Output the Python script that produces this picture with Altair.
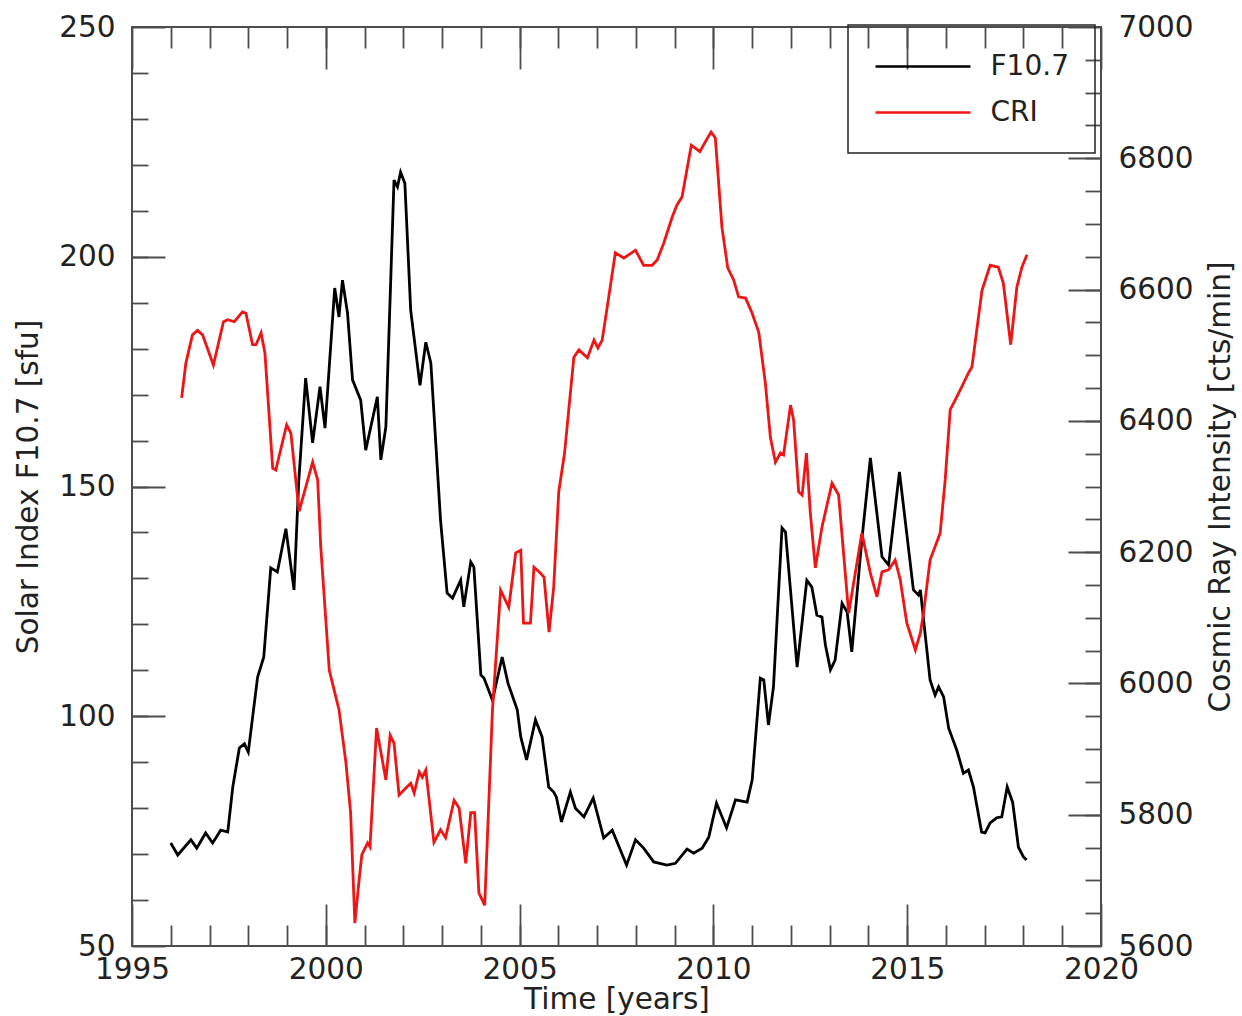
import altair as alt
import pandas as pd

# Solar radio flux F10.7 (sfu), smoothed
f107_years = [
    1996.00, 1996.18, 1996.52, 1996.67, 1996.90, 1997.08, 1997.29, 1997.47, 1997.60, 1997.77,
    1997.90, 1998.00, 1998.24, 1998.40, 1998.58, 1998.75, 1998.97, 1999.18, 1999.30, 1999.48,
    1999.66, 1999.85, 1999.98, 2000.23, 2000.34, 2000.43, 2000.56, 2000.69, 2000.90, 2001.03,
    2001.33, 2001.42, 2001.55, 2001.76, 2001.85, 2001.93, 2002.04, 2002.19, 2002.43, 2002.58,
    2002.71, 2002.96, 2003.13, 2003.27, 2003.48, 2003.56, 2003.74, 2003.82, 2004.00, 2004.08,
    2004.30, 2004.55, 2004.70, 2004.94, 2005.03, 2005.18, 2005.41, 2005.58, 2005.75, 2005.88,
    2005.95, 2006.08, 2006.31, 2006.44, 2006.66, 2006.90, 2007.17, 2007.39, 2007.76, 2007.99,
    2008.20, 2008.46, 2008.80, 2009.02, 2009.32, 2009.49, 2009.71, 2009.88, 2010.08, 2010.34,
    2010.57, 2010.87, 2011.00, 2011.21, 2011.30, 2011.42, 2011.55, 2011.77, 2011.86, 2012.16,
    2012.41, 2012.54, 2012.67, 2012.80, 2012.89, 2013.02, 2013.14, 2013.32, 2013.45, 2013.57,
    2013.83, 2014.05, 2014.35, 2014.52, 2014.80, 2015.16, 2015.29, 2015.34, 2015.59, 2015.72,
    2015.81, 2015.94, 2016.07, 2016.28, 2016.45, 2016.58, 2016.71, 2016.92, 2017.01, 2017.14,
    2017.31, 2017.44, 2017.58, 2017.72, 2017.87, 2018.00, 2018.08,
]
f107_values = [
    72.4, 69.8, 73.1, 71.3, 74.6, 72.4, 75.2, 74.8, 84.6, 93.1,
    94.0, 92.2, 108.5, 112.9, 132.3, 131.4, 140.8, 127.5, 150.8, 173.6,
    159.5, 171.7, 162.7, 193.2, 186.9, 194.9, 187.8, 173.2, 168.8, 157.9,
    169.5, 155.8, 163.0, 216.7, 215.2, 218.4, 216.0, 188.4, 172.0, 181.4,
    176.9, 142.7, 126.8, 125.7, 129.6, 123.8, 133.6, 132.5, 109.0, 108.3,
    103.5, 112.9, 107.2, 101.4, 95.5, 90.5, 99.2, 95.5, 84.6, 83.5,
    82.4, 77.0, 83.5, 80.0, 78.1, 82.2, 73.5, 75.2, 67.6, 73.1,
    71.3, 68.3, 67.6, 68.0, 71.1, 70.2, 71.3, 73.7, 81.1, 75.7,
    81.8, 81.3, 86.1, 108.3, 107.9, 98.1, 106.4, 141.0, 140.1, 110.7,
    129.6, 128.1, 122.0, 121.6, 115.5, 110.1, 112.2, 124.6, 122.7, 114.0,
    138.4, 156.2, 134.7, 132.9, 153.2, 127.5, 126.4, 127.5, 107.9, 104.6,
    106.4, 104.2, 97.4, 92.6, 87.6, 88.3, 84.6, 74.8, 74.6, 76.8,
    77.9, 78.1, 84.6, 81.3, 71.5, 69.4, 68.7,
]

# Neutron-monitor cosmic ray intensity (cts/min)
cri_years = [
    1996.28, 1996.39, 1996.56, 1996.69, 1996.82, 1997.10, 1997.36, 1997.47, 1997.64, 1997.85,
    1997.94, 1998.11, 1998.20, 1998.33, 1998.43, 1998.63, 1998.71, 1998.99, 1999.10, 1999.31,
    1999.66, 1999.79, 1999.87, 2000.09, 2000.34, 2000.52, 2000.64, 2000.75, 2000.86, 2000.93,
    2001.08, 2001.14, 2001.31, 2001.55, 2001.66, 2001.76, 2001.89, 2002.02, 2002.19, 2002.28,
    2002.41, 2002.49, 2002.58, 2002.79, 2002.96, 2003.09, 2003.31, 2003.44, 2003.61, 2003.74,
    2003.84, 2003.95, 2004.10, 2004.30, 2004.51, 2004.72, 2004.90, 2005.03, 2005.10, 2005.28,
    2005.37, 2005.50, 2005.63, 2005.76, 2005.88, 2006.01, 2006.16, 2006.40, 2006.53, 2006.75,
    2006.92, 2007.02, 2007.13, 2007.26, 2007.47, 2007.69, 2007.99, 2008.20, 2008.42, 2008.55,
    2008.72, 2008.94, 2009.06, 2009.19, 2009.43, 2009.65, 2009.79, 2009.94, 2010.05, 2010.22,
    2010.37, 2010.52, 2010.65, 2010.83, 2011.00, 2011.17, 2011.34, 2011.47, 2011.60, 2011.73,
    2011.81, 2011.99, 2012.07, 2012.20, 2012.29, 2012.40, 2012.50, 2012.63, 2012.80, 2013.06,
    2013.23, 2013.49, 2013.83, 2014.05, 2014.22, 2014.35, 2014.52, 2014.69, 2014.82, 2014.99,
    2015.21, 2015.34, 2015.42, 2015.59, 2015.85, 2015.98, 2016.11, 2016.24, 2016.41, 2016.58,
    2016.67, 2016.93, 2017.14, 2017.35, 2017.48, 2017.67, 2017.83, 2017.96, 2018.09,
]
cri_values = [
    6435, 6488, 6531, 6538, 6531, 6485, 6551, 6554, 6551, 6566,
    6564, 6516, 6516, 6534, 6503, 6328, 6325, 6394, 6381, 6262,
    6337, 6310, 6208, 6020, 5960, 5879, 5803, 5635, 5701, 5739,
    5757, 5751, 5932, 5853, 5921, 5909, 5830, 5838, 5848, 5833,
    5865, 5857, 5868, 5758, 5777, 5765, 5822, 5810, 5726, 5803,
    5803, 5681, 5662, 5960, 6142, 6116, 6199, 6203, 6092, 6092,
    6177, 6170, 6162, 6078, 6147, 6292, 6351, 6497, 6508, 6496,
    6523, 6511, 6523, 6573, 6656, 6648, 6660, 6637, 6637, 6645,
    6671, 6711, 6729, 6741, 6820, 6810, 6825, 6840, 6831, 6695,
    6633, 6615, 6589, 6587, 6564, 6535, 6458, 6375, 6337, 6351,
    6348, 6424, 6401, 6292, 6287, 6351, 6260, 6176, 6238, 6305,
    6287, 6107, 6229, 6168, 6132, 6170, 6173, 6188, 6158, 6092,
    6051, 6077, 6107, 6188, 6229, 6310, 6417, 6432, 6452, 6473,
    6482, 6599, 6637, 6634, 6610, 6516, 6604, 6634, 6653,
]

series_names = ["F10.7", "CRI"]
series_colors = ["#000000", "#f01414"]

# Tick positions
year_major = [1995, 2000, 2005, 2010, 2015, 2020]
year_minor = list(range(1996, 2020))
f107_major = [50, 100, 150, 200, 250]
f107_minor = list(range(60, 250, 10))
cri_major = [5600, 5800, 6000, 6200, 6400, 6600, 6800, 7000]
cri_minor = list(range(5650, 7000, 50))

f_df = pd.DataFrame({"year": f107_years, "value": f107_values, "series": series_names[0]})
c_df = pd.DataFrame({"year": cri_years, "value": cri_values, "series": series_names[1]})

W, H = 969, 919
FONT = "DejaVu Sans"
INK = "#222222"
FRAME = "#4d4d4d"

X_MAJ, X_MIN = 42, 21   # inward tick lengths on the time axes
Y_MAJ, Y_MIN = 33, 16   # inward tick lengths on the value axes

x_scale = alt.Scale(domain=[1995, 2020], nice=False, zero=False)
yf_scale = alt.Scale(domain=[50, 250], nice=False, zero=False)
yc_scale = alt.Scale(domain=[5600, 7000], nice=False, zero=False)
color_scale = alt.Scale(domain=series_names, range=series_colors)


def tick_axis(orient, values, length, **kw):
    """Axis drawn inside the frame: a negative offset pulls it in by the tick length."""
    opts = dict(
        orient=orient, values=values, offset=-length, tickSize=length,
        domain=False, grid=False, tickColor=FRAME, tickWidth=1.8,
        labels=False, title=None,
    )
    opts.update(kw)
    return alt.Axis(**opts)


# Legend key: a long horizontal stroke (custom path, scaled by sqrt(size)/2),
# while the entry rows stay compact.
KEY_SIZE = 784                      # sqrt -> 28 px row slot
KEY_PATH = "M-3.393,0L3.393,0"      # 6.786 * 14 = 95 px long stroke

legend = alt.Legend(
    title=None, orient="none", legendX=716, legendY=-2, direction="vertical",
    symbolType=KEY_PATH, symbolSize=KEY_SIZE, symbolStrokeWidth=2.5,
    symbolOffset=33.5, labelOffset=52,
    labelFont=FONT, labelFontSize=28, labelColor=INK,
    padding=26, rowPadding=16, strokeColor=INK,
)

color = alt.Color("series:N", scale=color_scale, legend=legend)

line_f = alt.Chart(f_df).mark_line(strokeWidth=2.8).encode(
    x=alt.X("year:Q", scale=x_scale, axis=tick_axis(
        "bottom", year_major, X_MAJ, labels=True, format="d", labelFlush=False,
        labelOverlap=False, labelBaseline="alphabetic", labelPadding=32,
        labelFont=FONT, labelFontSize=29.5, labelColor=INK,
        title="Time [years]", titleFont=FONT, titleFontSize=29.5, titleFontWeight="normal",
        titleColor=INK, titleX=W / 2, titleY=104, titleBaseline="alphabetic",
        titleAlign="center")),
    y=alt.Y("value:Q", scale=yf_scale, axis=tick_axis(
        "left", f107_major, Y_MAJ, labels=True, format="d", labelFlush=False,
        labelOverlap=False, labelPadding=17, labelFont=FONT, labelFontSize=29.5,
        labelColor=INK, title="Solar Index F10.7 [sfu]", titleFont=FONT,
        titleFontSize=29.5, titleFontWeight="normal", titleColor=INK,
        titleAngle=270, titleX=-137, titleY=H / 2, titleBaseline="middle",
        titleAlign="center")),
    color=color,
)

line_c = alt.Chart(c_df).mark_line(strokeWidth=2.8).encode(
    x=alt.X("year:Q", scale=x_scale, axis=tick_axis("bottom", year_minor, X_MIN)),
    y=alt.Y("value:Q", scale=yc_scale, axis=tick_axis(
        "right", cri_major, Y_MAJ, labels=True, format="d", labelFlush=False,
        labelOverlap=False, labelPadding=17, labelFont=FONT, labelFontSize=29.5,
        labelColor=INK, title="Cosmic Ray Intensity [cts/min]", titleFont=FONT,
        titleFontSize=29.5, titleFontWeight="normal", titleColor=INK,
        titleAngle=270, titleX=152, titleY=H / 2, titleBaseline="middle",
        titleAlign="center")),
    color=color,
)

ticks_f = alt.Chart(f_df).mark_line(strokeOpacity=0).encode(
    x=alt.X("year:Q", scale=x_scale, axis=tick_axis("top", year_major, X_MAJ)),
    y=alt.Y("value:Q", scale=yf_scale, axis=tick_axis("left", f107_minor, Y_MIN)),
)

ticks_c = alt.Chart(c_df).mark_line(strokeOpacity=0).encode(
    x=alt.X("year:Q", scale=x_scale, axis=tick_axis("top", year_minor, X_MIN)),
    y=alt.Y("value:Q", scale=yc_scale, axis=tick_axis("right", cri_minor, Y_MIN)),
)

chart = (
    alt.layer(line_f, line_c, ticks_f, ticks_c)
    .resolve_scale(x="independent", y="independent", color="shared")
    .properties(
        width=W, height=H, autosize="none",
        padding={"left": 132, "top": 27, "right": 141, "bottom": 70},
        background="white",
    )
    .configure_view(stroke=FRAME, strokeWidth=2)
    .configure_legend(strokeWidth=1.5)
)

chart.save("out.html", embed_options={"renderer": "svg", "actions": False})
